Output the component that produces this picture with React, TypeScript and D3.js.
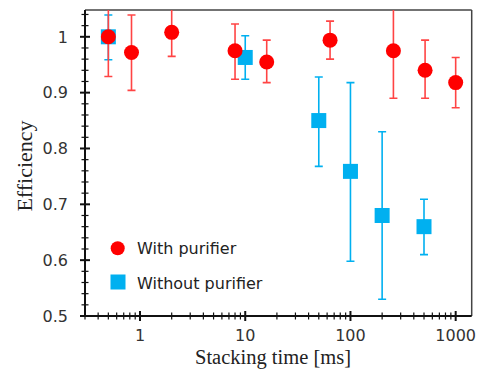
import React, { useEffect, useRef } from 'react';
import * as d3 from 'd3';

// stacking time [ms], efficiency, error (low/high)
const withTime = [0.5, 0.83, 2, 8, 16, 64, 256, 512, 1000];
const withEff = [1.0, 0.972, 1.008, 0.975, 0.955, 0.994, 0.975, 0.94, 0.918];
const withLo = [0.929, 0.904, 0.965, 0.924, 0.918, 0.96, 0.89, 0.89, 0.873];
const withHi = [1.071, 1.039, 1.051, 1.023, 0.994, 1.028, 1.06, 0.994, 0.963];

const withoutTime = [0.5, 10, 50, 100, 200, 500];
const withoutEff = [1.0, 0.963, 0.85, 0.759, 0.68, 0.66];
const withoutLo = [0.959, 0.924, 0.768, 0.598, 0.53, 0.61];
const withoutHi = [1.039, 1.002, 0.928, 0.918, 0.83, 0.709];

const yMajor = [0.5, 0.6, 0.7, 0.8, 0.9, 1];
const xMajor = [1, 10, 100, 1000];
const legendLabels = ['With purifier', 'Without purifier'];

const RED = '#ff0000';
const RED_BAR = '#ff4444';
const BLUE = '#00b0f0';

const App = () => {
  const ref = useRef(null);

  useEffect(() => {
    const svg = d3.select(ref.current);
    svg.selectAll('*').remove();

    const left = 85, right = 471.7, top = 10, bottom = 316;

    const x = d3.scaleLog().domain([0.3, 1420]).range([left, right]);
    const y = d3.scaleLinear().domain([0.5, 1.048]).range([bottom, top]);

    svg.append('defs').append('clipPath').attr('id', 'plot-clip')
      .append('rect')
      .attr('x', left).attr('y', top)
      .attr('width', right - left).attr('height', bottom - top);

    // frame top / right
    svg.append('line')
      .attr('x1', left).attr('x2', right).attr('y1', top).attr('y2', top)
      .attr('stroke', '#444').attr('stroke-width', 1.5);
    svg.append('line')
      .attr('x1', right).attr('x2', right).attr('y1', top).attr('y2', bottom)
      .attr('stroke', '#444').attr('stroke-width', 1.5);

    // y minor ticks
    const yMinor = d3.range(0.52, 1.048, 0.02).filter(v => Math.abs(v * 10 - Math.round(v * 10)) > 0.01);
    svg.selectAll('.y-minor')
      .data(yMinor)
      .enter().append('line')
      .attr('x1', left - 3.5).attr('x2', left + 3.5)
      .attr('y1', d => y(d)).attr('y2', d => y(d))
      .attr('stroke', '#111').attr('stroke-width', 1.2);
    svg.selectAll('.y-major')
      .data(yMajor)
      .enter().append('line')
      .attr('x1', left - 5).attr('x2', left + 5)
      .attr('y1', d => y(d)).attr('y2', d => y(d))
      .attr('stroke', '#111').attr('stroke-width', 2);
    svg.selectAll('.y-label')
      .data(yMajor)
      .enter().append('text')
      .attr('x', 68).attr('y', d => y(d))
      .attr('dy', '0.36em')
      .attr('text-anchor', 'end')
      .attr('font-family', 'DejaVu Sans, sans-serif')
      .attr('font-size', 16)
      .attr('fill', '#333')
      .text(d => String(d));

    // x ticks
    const xMinor = [];
    [0.1, 1, 10, 100].forEach(dec => {
      for (let k = 2; k <= 9; k++) {
        const v = dec * k;
        if (v >= 0.3 && v <= 1420) xMinor.push(v);
      }
    });
    svg.selectAll('.x-minor')
      .data(xMinor)
      .enter().append('line')
      .attr('x1', d => x(d)).attr('x2', d => x(d))
      .attr('y1', bottom - 3.5).attr('y2', bottom + 3.5)
      .attr('stroke', '#111').attr('stroke-width', 1.2);
    svg.selectAll('.x-major')
      .data(xMajor)
      .enter().append('line')
      .attr('x1', d => x(d)).attr('x2', d => x(d))
      .attr('y1', bottom - 5).attr('y2', bottom + 5)
      .attr('stroke', '#111').attr('stroke-width', 2);
    svg.selectAll('.x-label')
      .data(xMajor)
      .enter().append('text')
      .attr('x', d => x(d)).attr('y', 341)
      .attr('text-anchor', 'middle')
      .attr('font-family', 'DejaVu Sans, sans-serif')
      .attr('font-size', 16)
      .attr('fill', '#333')
      .text(d => String(d));

    // axis lines left / bottom
    svg.append('line')
      .attr('x1', left).attr('x2', left).attr('y1', top).attr('y2', bottom + 1)
      .attr('stroke', '#111').attr('stroke-width', 2);
    svg.append('line')
      .attr('x1', left).attr('x2', right).attr('y1', bottom).attr('y2', bottom)
      .attr('stroke', '#111').attr('stroke-width', 2);

    // axis titles
    svg.append('text')
      .attr('x', 273).attr('y', 363.5)
      .attr('text-anchor', 'middle')
      .attr('font-family', 'Liberation Serif, Times New Roman, serif')
      .attr('font-size', 20.5)
      .attr('fill', '#222')
      .text('Stacking time [ms]');
    svg.append('text')
      .attr('transform', 'translate(32,166) rotate(-90)')
      .attr('text-anchor', 'middle')
      .attr('font-family', 'Liberation Serif, Times New Roman, serif')
      .attr('font-size', 22)
      .attr('fill', '#222')
      .text('Efficiency');

    const plot = svg.append('g').attr('clip-path', 'url(#plot-clip)');

    const drawBars = (times, lo, hi, color) => {
      const idx = d3.range(times.length);
      plot.selectAll(null)
        .data(idx)
        .enter().append('line')
        .attr('x1', i => x(times[i])).attr('x2', i => x(times[i]))
        .attr('y1', i => y(lo[i])).attr('y2', i => y(hi[i]))
        .attr('stroke', color).attr('stroke-width', 1.6);
      [lo, hi].forEach(arr => {
        plot.selectAll(null)
          .data(idx)
          .enter().append('line')
          .attr('x1', i => x(times[i]) - 4).attr('x2', i => x(times[i]) + 4)
          .attr('y1', i => y(arr[i])).attr('y2', i => y(arr[i]))
          .attr('stroke', color).attr('stroke-width', 1.6);
      });
    };

    // without purifier
    drawBars(withoutTime, withoutLo, withoutHi, BLUE);
    plot.selectAll('.sq')
      .data(d3.range(withoutTime.length))
      .enter().append('rect')
      .attr('x', i => x(withoutTime[i]) - 7.5)
      .attr('y', i => y(withoutEff[i]) - 7.5)
      .attr('width', 15).attr('height', 15)
      .attr('fill', BLUE);

    // with purifier
    drawBars(withTime, withLo, withHi, RED_BAR);
    plot.selectAll('.dot')
      .data(d3.range(withTime.length))
      .enter().append('circle')
      .attr('cx', i => x(withTime[i]))
      .attr('cy', i => y(withEff[i]))
      .attr('r', 7.5)
      .attr('fill', RED);

    // legend
    svg.append('circle')
      .attr('cx', 117.7).attr('cy', 248.3).attr('r', 7)
      .attr('fill', RED);
    svg.append('rect')
      .attr('x', 110.5).attr('y', 274.5).attr('width', 15).attr('height', 15)
      .attr('fill', BLUE);
    svg.selectAll('.legend-text')
      .data(legendLabels)
      .enter().append('text')
      .attr('x', 137).attr('y', (d, i) => 254 + i * 34.5)
      .attr('font-family', 'DejaVu Sans, sans-serif')
      .attr('font-size', 16)
      .attr('fill', '#222')
      .text(d => d);
  }, []);

  return (
    <svg ref={ref} width={484} height={369}
      style={{ position: 'absolute', left: 0, top: 0, background: '#fff' }} />
  );
};

export default App;
